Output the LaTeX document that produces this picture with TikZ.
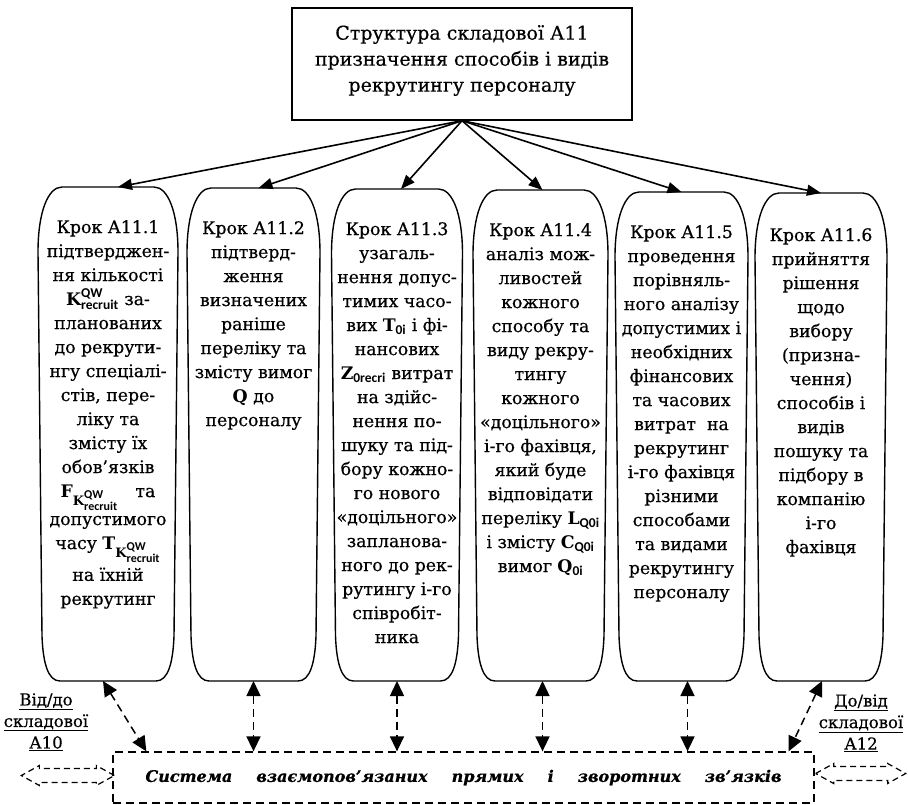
\documentclass[tikz,border=0pt]{standalone}
\usepackage{fontspec}
\setmainfont{DejaVu Serif}[UprightFeatures={FakeBold=0.5},BoldItalicFeatures={FakeBold=0.6}]
\newfontfamily\subfont{Carlito}
\usetikzlibrary{arrows.meta}

% small bold labels used as indices
\newcommand\smf[1]{\mbox{\fontsize{13.5}{13.5}\selectfont\subfont\bfseries #1}}
\newcommand\ssmf[1]{\mbox{\fontsize{12}{12}\selectfont\subfont\bfseries #1}}
\newcommand\kidx{\mbox{\fontsize{13}{13}\selectfont\bfseries K}^{\ssmf{QW}}_{\ssmf{recruit}}}

% outline of a step: flat top and bottom, rounded elongated corners
\newcommand\stepoutline[1]{%
  \draw[stepline] ([xshift=24pt]#1.north west) -- ([xshift=-24pt]#1.north east)
    .. controls ([xshift=-10pt]#1.north east) and ([yshift=-25pt]#1.north east) .. ([yshift=-65pt]#1.north east)
    -- ([xshift=-4pt,yshift=45pt]#1.south east)
    .. controls ([xshift=-5pt,yshift=18pt]#1.south east) and ([xshift=-10pt]#1.south east) .. ([xshift=-22pt]#1.south east)
    -- ([xshift=22pt]#1.south west)
    .. controls ([xshift=10pt]#1.south west) and ([xshift=5pt,yshift=18pt]#1.south west) .. ([xshift=4pt,yshift=45pt]#1.south west)
    -- ([yshift=-65pt]#1.north west)
    .. controls ([yshift=-25pt]#1.north west) and ([xshift=10pt]#1.north west) .. ([xshift=24pt]#1.north west)
    -- cycle;}

\tikzset{
  stepline/.style={line width=1.4pt},
  stepbox/.style={draw=none, inner sep=0pt, outer sep=0pt},
  steptext/.style={anchor=north, inner sep=0pt, align=center, font=\fontsize{17.3}{24}\selectfont},
  headbox/.style={draw, line width=1.4pt, minimum width=340pt, minimum height=112pt, inner sep=0pt},
  headtext/.style={align=center, inner sep=0pt, font=\fontsize{19}{26}\selectfont},
  feed/.style={-{Triangle[length=14pt,width=11pt]}, line width=1.6pt},
  link/.style={{Triangle[length=15pt,width=14pt]}-{Triangle[length=15pt,width=14pt]}, line width=1.5pt, dash pattern=on 8pt off 5pt},
  sysbox/.style={draw, line width=1.3pt, dash pattern=on 8pt off 5pt, minimum width=701pt, minimum height=51pt, inner sep=0pt, font=\fontsize{16}{18}\selectfont\bfseries\itshape},
  sidelabel/.style={align=center, inner sep=0pt, font=\fontsize{16.5}{21.5}\selectfont},
  blockarrow/.style={line width=1.2pt, dash pattern=on 6pt off 4pt}
}

\begin{document}
\begin{tikzpicture}[x=1pt, y=-1pt]
\useasboundingbox (0,0) rectangle (908,804);

% heading
\node[headbox] (head) at (462,64) {};
\node[headtext] (headlbl) at ([yshift=3.5pt]head.center) {Структура складової А11\\призначення способів і видів\\рекрутингу персоналу};

% step frames
\node[stepbox, minimum width=140pt, minimum height=494pt] (box1) at (108,434) {};
\node[stepbox, minimum width=133pt, minimum height=493pt] (box2) at (253.5,434.5) {};
\node[stepbox, minimum width=131pt, minimum height=492pt] (box3) at (397,435) {};
\node[stepbox, minimum width=135pt, minimum height=491pt] (box4) at (540.5,435.5) {};
\node[stepbox, minimum width=133pt, minimum height=489pt] (box5) at (681.5,436.5) {};
\node[stepbox, minimum width=132pt, minimum height=488pt] (box6) at (821,437) {};
\foreach \b in {box1,box2,box3,box4,box5,box6} {\stepoutline{\b}}

% step texts
\node[steptext] (t1) at ([yshift=-33pt]box1.north) {Крок А11.1\\підтверджен-\\ня кількості\\$\textbf{K}^{\smf{QW}}_{\smf{recruit}}$ за-\\планованих\\до рекрути-\\нгу спеціалі-\\стів, пере-\\ліку та\\змісту їх\\обов’язків\\$\textbf{F}_{\kidx}$\quad та\\[4pt]допустимого\\часу $\textbf{T}_{\kidx}$\\[4pt]на їхній\\рекрутинг};
\node[steptext] (t2) at ([yshift=-33pt]box2.north) {Крок А11.2\\підтверд-\\ження\\визначених\\раніше\\переліку та\\змісту вимог\\\textbf{Q} до\\персоналу};
\node[steptext] (t3) at ([yshift=-33pt]box3.north) {Крок А11.3\\узагаль-\\нення допус-\\тимих часо-\\вих $\textbf{T}_{\smf{0i}}$ і фі-\\нансових\\$\textbf{Z}_{\smf{0recri}}$ витрат\\на здійс-\\нення по-\\шуку та під-\\бору кожно-\\го нового\\«доцільного»\\запланова-\\ного до рек-\\рутингу і-го\\співробіт-\\ника};
\node[steptext] (t4) at ([yshift=-33pt]box4.north) {Крок А11.4\\аналіз мож-\\ливостей\\кожного\\способу та\\виду рекру-\\тингу\\кожного\\«доцільного»\\і-го фахівця,\\який буде\\відповідати\\переліку $\textbf{L}_{\smf{Q0i}}$\\і змісту $\textbf{C}_{\smf{Q0i}}$\\вимог $\textbf{Q}_{\smf{0i}}$};
\node[steptext] (t5) at ([yshift=-33pt]box5.north) {Крок А11.5\\проведення\\порівняль-\\ного аналізу\\допустимих і\\необхідних\\фінансових\\та часових\\витрат\ \ на\\рекрутинг\\і-го фахівця\\різними\\способами\\та видами\\рекрутингу\\персоналу};
\node[steptext] (t6) at ([yshift=-35pt]box6.north) {Крок А11.6\\прийняття\\рішення\\щодо\\вибору\\(призна-\\чення)\\способів і\\видів\\пошуку та\\підбору в\\компанію\\і-го\\фахівця};

% heading to steps
\draw[feed] (head.south) -- ([xshift=10pt]box1.north);
\draw[feed] (head.south) -- ([xshift=5pt]box2.north);
\draw[feed] (head.south) -- ([xshift=4pt]box3.north);
\draw[feed] (head.south) -- ([xshift=2pt]box4.north);
\draw[feed] (head.south) -- (box5.north);
\draw[feed] (head.south) -- (box6.north);

% system of links
\node[sysbox] (sys) at (463.5,777.5) {\makebox[636pt]{Система\hfill взаємопов’язаних\hfill прямих\hfill і\hfill зворотних\hfill зв’язків}};

\draw[link] ([xshift=-5pt]box1.south) -- ([xshift=34pt]sys.north west);
\draw[link] (box2.south) -- (box2.south |- sys.north);
\draw[link] (box3.south) -- (box3.south |- sys.north);
\draw[link] ([xshift=2pt]box4.south) -- ([xshift=2pt]box4.south |- sys.north);
\draw[link] ([xshift=6pt]box5.south) -- ([xshift=6pt]box5.south |- sys.north);
\draw[link] ([xshift=1pt]box6.south) -- ([xshift=-26pt]sys.north east);

% neighbouring components
\node[sidelabel] (from10) at (46,722) {\underline{Від/до}\\\underline{складової}\\\underline{А10}};
\node[sidelabel] (to12) at (861,723) {\underline{До/від}\\\underline{складової}\\\underline{А12}};

\draw[blockarrow] ([xshift=2pt,yshift=2pt]sys.west) -- ++(-18,-10) -- ++(0,3) -- ++(-57,0) -- ++(0,-3)
  -- ++(-18,10) -- ++(18,10) -- ++(0,-3) -- ++(57,0) -- ++(0,3) -- cycle;
\draw[blockarrow] ([xshift=1pt,yshift=4pt]sys.east) -- ++(18,-10) -- ++(0,3) -- ++(54,0) -- ++(0,-3)
  -- ++(18,10) -- ++(-18,10) -- ++(0,-3) -- ++(-54,0) -- ++(0,3) -- cycle;
\end{tikzpicture}
\end{document}
